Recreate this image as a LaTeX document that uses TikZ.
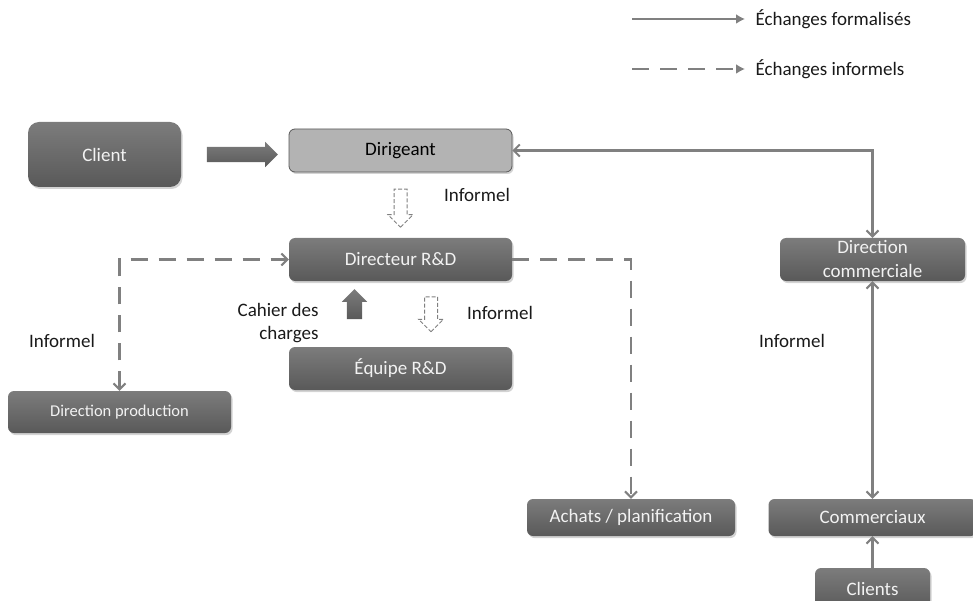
\documentclass[tikz,border=0pt]{standalone}
\usepackage{fontspec}
\setmainfont{Carlito}
\usetikzlibrary{positioning, arrows.meta, shapes.arrows, shadows}
\definecolor{linegray}{HTML}{808080}
\definecolor{boxtop}{HTML}{7C7C7C}
\definecolor{boxbot}{HTML}{595959}
\definecolor{lightfill}{HTML}{B3B3B3}
\tikzset{
    box/.style={rounded corners=6pt, top color=boxtop, bottom color=boxbot, draw=none,
        text=white!95!black, font=\fontsize{19}{23}\selectfont, align=center,
        drop shadow={opacity=.35, shadow xshift=1.5pt, shadow yshift=-2pt}},
    lightbox/.style={box, top color=lightfill, bottom color=lightfill, draw=boxbot, line width=.8pt, text=black},
    label/.style={font=\fontsize{19}{23}\selectfont, text=black!90},
    flow/.style={draw=linegray, line width=2.6pt, >={Straight Barb[length=6pt,width=12pt,line width=2pt]}},
    informal/.style={flow, dash pattern=on 17pt off 11pt},
    legarrow/.style={draw=linegray, line width=2.6pt, -{Latex[length=9pt,width=10pt]}},
    blockarrow/.style={single arrow, single arrow head extend=5pt, inner xsep=0pt, inner ysep=7.5pt,
        top color=boxtop, bottom color=boxbot, draw=none},
    hollowarrow/.style={single arrow, single arrow head extend=6pt, inner xsep=0pt, inner ysep=6pt,
        fill=white, draw=linegray, dash pattern=on 4pt off 2pt, line width=1pt}
}
\begin{document}
\begin{tikzpicture}[x=1pt, y=-1pt]
  \useasboundingbox (0,0) rectangle (973,601);
  % boxes
  \node(client)[box, minimum width=153pt, minimum height=65pt, rounded corners=11pt] at (104.5,154.5) {Client};
  \node(dirigeant)[lightbox, minimum width=223pt, minimum height=43pt] at (400.5,150.5) {Dirigeant};
  \node(directeur)[box, minimum width=223pt, minimum height=43pt] at (400.5,259.5) {Directeur R\&D};
  \node(equipe)[box, minimum width=223pt, minimum height=43pt] at (400.5,368.5) {Équipe R\&D};
  \node(prod)[box, minimum width=223pt, minimum height=42pt, font=\fontsize{16.5}{19}\selectfont] at (119.5,412) {Direction production};
  \node(achats)[box, minimum width=208pt, minimum height=37pt] at (631,517.5) {Achats / planification};
  \node(dircom)[box, minimum width=185pt, minimum height=43pt, inner sep=0pt] at (872.5,259.5) {Direction\\[1pt]commerciale};
  \node(commerciaux)[box, minimum width=208pt, minimum height=37pt] at (872.5,517.5) {Commerciaux};
  \node(clients)[box, minimum width=115pt, minimum height=42pt] at (872.5,589) {Clients};
  % block arrows
  \node(cliarrow)[blockarrow, minimum height=71pt, minimum width=25pt] at (238.5,154.5) {};
  \node(infarrow1)[hollowarrow, rotate=-90, minimum height=38pt, minimum width=25pt] at (400.5,205) {};
  \node(cdcarrow)[blockarrow, rotate=90, minimum height=30pt, minimum width=25pt] at (354.5,308) {};
  \node(infarrow2)[hollowarrow, rotate=-90, minimum height=35pt, minimum width=24pt] at (431,311) {};
  % labels
  \node(inf1)[label] at (477,195) {Informel};
  \node(inf2)[label] at (62,341) {Informel};
  \node(inf3)[label] at (500,313) {Informel};
  \node(inf4)[label] at (792,341) {Informel};
  \node(cdc)[label, align=right, anchor=east] at (322,323) {Cahier des\\charges};
  % connectors
  \draw[flow, <->](dirigeant.east) -| (dircom.north);
  \draw[flow, <->](dircom.south) -- (commerciaux.north);
  \draw[flow, ->](clients.north) -- (commerciaux.south);
  \draw[informal, <->](prod.north) |- (directeur.west);
  \draw[informal, ->](directeur.east) -| (achats.north);
  % legend
  \coordinate(ls0) at (632,19);
  \coordinate(ls1) at (745,19);
  \coordinate(ld0) at (632,69);
  \coordinate(ld1) at (745,69);
  \draw[legarrow](ls0) -- (ls1);
  \draw[legarrow, dash pattern=on 17pt off 11pt](ld0) -- (ld1);
  \node(legsolid)[label, anchor=west] at (752,19) {Échanges formalisés};
  \node(legdash)[label, anchor=west] at (752,69) {Échanges informels};
\end{tikzpicture}
\end{document}
